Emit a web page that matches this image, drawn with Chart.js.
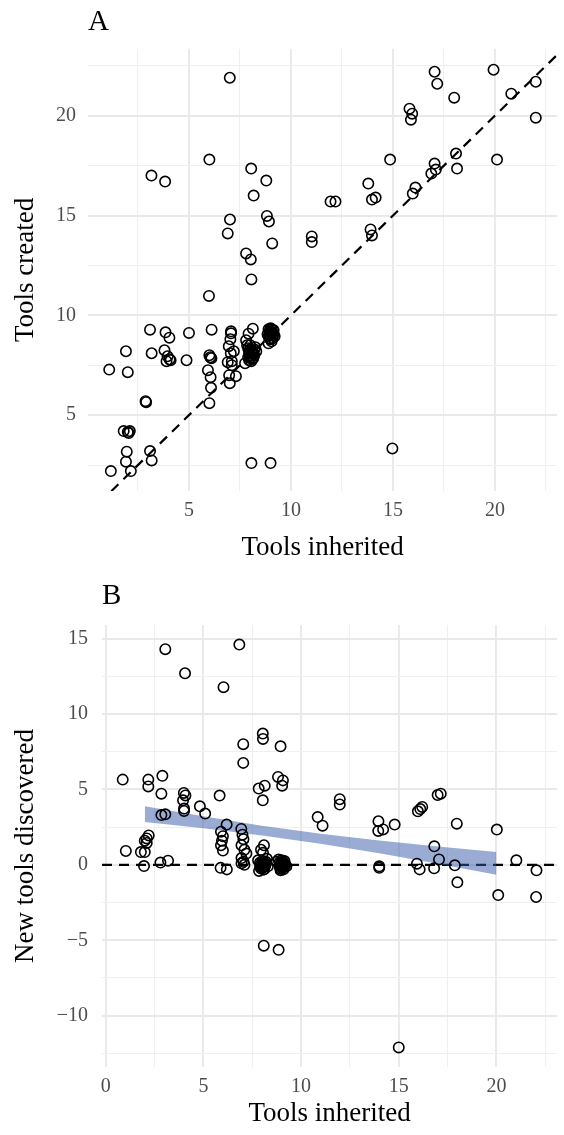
<!DOCTYPE html>
<html>
<head>
<meta charset="utf-8">
<title>Tools inherited, created and discovered</title>
<script src="https://cdn.jsdelivr.net/npm/chart.js@4.4.1/dist/chart.umd.min.js"></script>
<style>
  html, body { margin: 0; padding: 0; background: #fff; }
  #wrap { position: relative; width: 564px; height: 1135px; }
  canvas { position: absolute; left: 0; }
  #chartA { top: 0; }
  #chartB { top: 567px; }
</style>
</head>
<body>
<div id="wrap">
  <canvas id="chartA" width="564" height="567"></canvas>
  <canvas id="chartB" width="564" height="568"></canvas>
</div>
<script>
'use strict'

// A: tools inherited vs tools created
const inheritedA = [7.0, 6.0, 3.16, 3.83, 8.05, 8.79, 8.17, 7.01, 6.9, 8.82, 8.92, 9.08, 7.8, 8.03, 8.06,
  17.04, 17.17, 18.0, 19.93, 20.8, 22.0, 22.0, 15.81, 15.94, 15.88, 14.86, 18.09, 18.14, 20.1, 17.04,
  17.1, 16.88, 13.79, 13.97, 14.15, 11.94, 12.18, 16.1, 15.97, 11.02, 11.02, 13.9, 13.97,
  5.98, 3.09, 3.85, 4.04, 5.0, 6.11, 7.06, 7.06, 7.03, 8.13, 7.92, 7.8, 1.91, 3.17, 3.8, 3.95, 4.05,
  3.9, 4.1, 4.88, 6.0, 6.05, 6.1, 6.9, 7.1, 7.05, 7.2, 1.09, 2.0, 5.93, 6.06, 6.08, 6.0, 6.97, 7.3,
  7.0, 2.87, 2.9, 1.8, 2.0, 2.05, 2.1, 1.95, 1.91, 1.17, 2.15, 3.09, 3.17, 8.06, 9.0, 14.97,
  7.85, 8.0, 8.1, 7.9, 8.2, 8.05, 8.25, 7.95, 8.15, 8.3, 7.75,
  8.9, 9.0, 9.1, 8.95, 9.15, 8.85, 9.05, 9.2, 8.9, 9.0, 6.95, 7.1,
  8.0, 8.1, 7.95, 8.05, 8.15, 7.9, 8.0, 8.1, 7.95, 8.2,
  9.0, 9.05, 8.95, 9.1, 8.9, 9.0, 9.1, 8.95, 9.05, 9.15];
const createdA = [21.9, 17.8, 17.0, 16.7, 17.35, 16.75, 16.0, 14.8, 14.1, 14.98, 14.7, 13.6, 13.1, 12.8, 11.8,
  22.2, 21.6, 20.9, 22.3, 21.1, 21.7, 19.9, 20.35, 20.1, 19.8, 17.8, 18.1, 17.35, 17.8, 17.6,
  17.3, 17.1, 16.6, 15.8, 15.9, 15.7, 15.7, 16.4, 16.1, 13.95, 13.67, 14.3, 14.0,
  10.97, 9.28, 9.15, 8.88, 9.12, 9.28, 9.2, 9.1, 8.8, 9.33, 9.08, 8.75, 8.2, 8.1, 8.25, 7.95, 7.8,
  7.7, 7.75, 7.75, 8.0, 7.9, 7.85, 7.65, 7.7, 8.1, 8.2, 7.28, 7.15, 7.25, 6.9, 6.37, 5.6, 7.0, 6.95,
  6.6, 5.7, 5.65, 4.2, 4.15, 4.1, 4.2, 3.17, 2.67, 2.2, 2.2, 3.2, 2.73, 2.6, 2.6, 3.33,
  8.5, 8.3, 8.1, 7.9, 8.0, 7.7, 8.4, 8.2, 7.85, 8.2, 7.6,
  9.3, 9.15, 9.0, 8.85, 9.25, 9.05, 8.7, 8.95, 8.6, 9.35, 8.45, 7.5,
  8.0, 8.25, 8.1, 7.9, 8.1, 8.35, 8.5, 7.8, 7.75, 8.3,
  9.0, 9.1, 9.2, 9.15, 8.95, 8.8, 8.85, 9.05, 9.3, 9.05];

// B: tools inherited vs new tools discovered
const inheritedB = [0.87, 3.05, 4.06, 6.84, 6.03, 7.04, 7.04, 8.04, 8.05, 8.95, 2.18, 2.18, 2.9, 2.85,
  4.0, 4.08, 3.96, 4.01, 4.01, 4.82, 5.09, 2.85, 3.05, 5.83, 6.19, 6.94, 5.9, 6.0, 5.95, 5.9, 6.0,
  7.0, 7.05, 6.95, 7.1, 7.83, 8.14, 8.04, 8.82, 9.07, 9.03, 2.0, 2.1, 2.2, 2.1, 1.03,
  11.98, 11.98, 10.85, 11.1, 13.96, 13.95, 14.2, 14.79, 15.98, 16.1, 16.2, 16.99, 17.15, 17.97, 20.02, 16.82,
  1.8, 2.0, 1.96, 2.8, 3.19, 5.88, 6.2, 6.95, 7.05, 7.1, 6.95, 7.2, 8.1, 7.95, 8.05, 8.09, 8.85,
  17.06, 14.0, 14.0, 15.93, 16.07, 16.81, 17.87, 18.0, 20.09, 21.02, 22.05, 22.03, 15.0,
  7.8, 7.9, 8.0, 8.1, 8.2, 8.3, 7.85, 8.05, 8.15, 8.25,
  8.75, 8.9, 9.0, 9.1, 9.2, 8.85, 9.05, 9.15, 8.95, 9.25,
  7.95, 8.05, 8.1, 8.0, 8.15, 7.9, 8.05, 8.2, 7.95, 8.1,
  8.95, 9.05, 9.1, 9.0, 8.9, 9.15, 9.05, 8.95, 9.1, 9.0];
const discoveredB = [5.65, 14.3, 12.7, 14.6, 11.78, 8.0, 6.76, 8.7, 8.35, 7.86, 5.65, 5.2, 5.9, 4.72,
  4.77, 4.6, 4.28, 3.73, 3.57, 3.88, 3.4, 3.3, 3.35, 4.59, 2.67, 2.38, 2.2, 1.9, 1.6, 1.3, 0.95,
  2.0, 1.7, 1.3, 1.0, 5.06, 5.25, 4.28, 5.83, 5.6, 5.25, 1.6, 1.75, 1.95, 1.45, 0.92,
  4.35, 4.0, 3.17, 2.6, 2.89, 2.25, 2.35, 2.67, 3.55, 3.7, 3.84, 4.63, 4.72, 2.73, 2.34, 1.23,
  0.85, 0.85, -0.08, 0.15, 0.28, -0.2, -0.3, 0.45, 0.2, 0.0, 0.1, 0.75, 1.3, 1.0, 0.8, -5.36, -5.63,
  0.36, -0.1, -0.2, 0.08, -0.3, -0.23, -0.03, -1.16, -2.0, 0.3, -0.36, -2.13, -12.1,
  0.3, -0.1, 0.1, -0.3, 0.2, -0.1, -0.4, -0.2, 0.0, 0.4,
  0.2, -0.1, 0.1, -0.3, 0.0, 0.35, -0.2, 0.25, -0.35, -0.1,
  0.05, -0.05, 0.15, -0.15, -0.1, 0.15, 0.25, 0.05, -0.25, -0.3,
  0.05, -0.05, 0.15, -0.15, 0.15, -0.1, 0.2, -0.25, -0.15, 0.3];

// linear fit band (B)
const bandX = [2, 5, 8, 11, 14, 17, 20];
const bandLow = [2.84, 2.42, 1.95, 1.40, 0.77, 0.07, -0.65];
const bandHigh = [3.88, 3.22, 2.60, 2.06, 1.62, 1.22, 0.85];

// axis ranges and ticks
const xRangeA = [0.05, 23.05];
const yRangeA = [1.2, 23.35];
const xRangeB = [-0.19, 23.11];
const yRangeB = [-13.4, 15.9];
const tickStep = 2.5;
const labelStep = 5;

Chart.defaults.font.family = "'Liberation Serif', 'DejaVu Serif', serif";
Chart.defaults.animation = false;
Chart.defaults.events = [];

function pairs(xs, ys) {
  return xs.map((x, i) => ({ x: x, y: ys[i] }));
}

function isMajor(v) {
  return Math.abs(v % labelStep) < 1e-9;
}

function axis(range, title, size, tickPad, titlePad) {
  return {
    type: 'linear',
    min: range[0],
    max: range[1],
    border: { display: false },
    grid: {
      color: c => isMajor(c.tick.value) ? '#e9e9e9' : '#efefef',
      lineWidth: c => isMajor(c.tick.value) ? 1.9 : 1.0,
      drawTicks: false
    },
    ticks: {
      stepSize: tickStep,
      includeBounds: false,
      autoSkip: false,
      maxRotation: 0,
      color: '#4d4d4d',
      font: { size: 20 },
      padding: tickPad,
      callback: v => isMajor(v) ? String(Math.round(v)).replace('-', '\u2212') : ''
    },
    title: {
      display: true,
      text: title,
      color: '#000',
      font: { size: 27 },
      padding: { top: titlePad, bottom: titlePad }
    },
    afterFit: s => {
      if (s.isHorizontal()) s.height = size; else s.width = size;
    }
  };
}

function panelTitle(text, padTop, padBottom) {
  return {
    display: true,
    text: text,
    align: 'start',
    fullSize: false,
    color: '#000',
    font: { size: 29, weight: 'normal' },
    padding: { top: padTop, bottom: padBottom }
  };
}

const pointStyle = {
  pointRadius: 5.2,
  borderWidth: 1.6,
  borderColor: '#000',
  backgroundColor: 'rgba(0,0,0,0)'
};

// panel A
const identity = [0, 24];
new Chart(document.getElementById('chartA'), {
  type: 'scatter',
  data: {
    datasets: [
      Object.assign({ data: pairs(inheritedA, createdA), order: 0 }, pointStyle),
      {
        type: 'line',
        data: pairs(identity, identity),
        borderColor: '#000',
        borderWidth: 2.2,
        borderDash: [10, 7],
        pointRadius: 0,
        order: 1
      }
    ]
  },
  options: {
    responsive: false,
    layout: { padding: { left: 0, right: 0.5, top: 0, bottom: 0 } },
    plugins: {
      legend: { display: false },
      tooltip: { enabled: false },
      title: panelTitle('A', 5, 9)
    },
    scales: {
      x: axis(xRangeA, 'Tools inherited', 76, 8, 3),
      y: axis(yRangeA, 'Tools created', 88, 12, 10)
    }
  }
});

// panel B
new Chart(document.getElementById('chartB'), {
  type: 'scatter',
  data: {
    datasets: [
      Object.assign({ data: pairs(inheritedB, discoveredB), order: 0 }, pointStyle),
      {
        type: 'line',
        data: pairs(bandX, bandLow),
        borderColor: 'rgba(0,0,0,0)',
        borderWidth: 0,
        pointRadius: 0,
        fill: false,
        order: 2
      },
      {
        type: 'line',
        data: pairs(bandX, bandHigh),
        borderColor: 'rgba(0,0,0,0)',
        borderWidth: 0,
        pointRadius: 0,
        backgroundColor: 'rgba(54,89,170,0.5)',
        fill: '-1',
        order: 2
      },
      {
        type: 'line',
        data: pairs(xRangeB, [0, 0]),
        borderColor: '#000',
        borderWidth: 2.2,
        borderDash: [10, 7],
        pointRadius: 0,
        order: 3
      }
    ]
  },
  options: {
    responsive: false,
    layout: { padding: { left: 0, right: 0, top: 0, bottom: 0 } },
    plugins: {
      legend: { display: false },
      tooltip: { enabled: false },
      title: panelTitle('B', 11.6, 11.6)
    },
    scales: {
      x: axis(xRangeB, 'Tools inherited', 68, 8, 5),
      y: axis(yRangeB, 'New tools discovered', 102, 14, 10)
    }
  }
});
</script>
</body>
</html>
